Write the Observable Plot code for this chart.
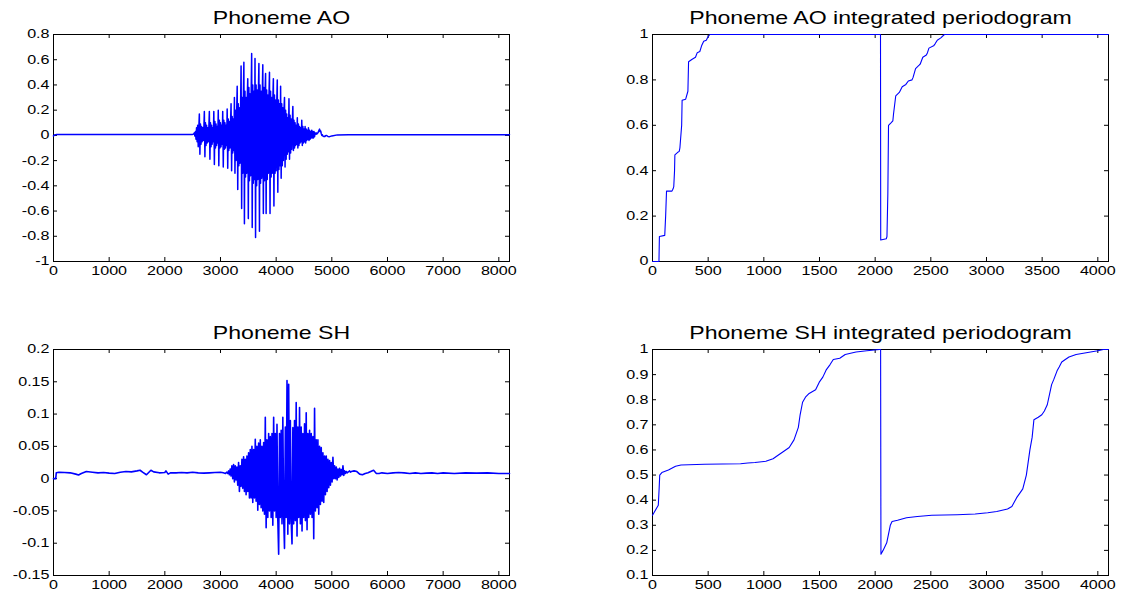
<!DOCTYPE html>
<html><head><meta charset="utf-8">
<script src="https://cdn.jsdelivr.net/npm/d3@7"></script>
<script src="https://cdn.jsdelivr.net/npm/@observablehq/plot@0.6"></script>
<style>
body{margin:0;background:#fff}
#page{position:relative;width:1124px;height:595px;overflow:hidden;background:#fff}
#page svg{position:absolute;overflow:visible}
</style></head>
<body><div id="page"></div>
<script>
// ---------- Data ----------
// Phoneme AO waveform: baseline before burst [sample, value]
const aoLead = [[0,-0.004],[20,0.004],[60,0.007],[150,0.008],[400,0.007],[800,0.008],[1200,0.008],[1600,0.007],[2000,0.008],[2300,0.008],[2490,0.008]];
// burst, one value every 10 samples from sample 2500
const aoBurstStart = 2500, aoBurstStep = 10;
const aoBurst = [
 0.008,0.009,0.012,0.02,-0.005,0.03,-0.03,0.06,-0.05,0.08,-0.09,0.05,
 0.17,-0.15,0.09,-0.07,0.07,-0.05,0.06,-0.04,0.04,
 0.19,-0.17,0.1,-0.08,0.08,-0.06,0.06,-0.05,0.05,
 0.19,-0.19,0.1,-0.09,0.08,-0.07,0.06,-0.05,
 0.19,-0.23,0.11,-0.1,0.09,-0.08,0.07,-0.06,
 0.2,-0.24,0.12,-0.1,0.1,-0.09,0.08,-0.07,
 0.19,-0.25,0.12,-0.11,0.1,-0.1,0.08,-0.08,
 0.21,-0.26,0.13,-0.12,0.11,-0.1,0.09,
 0.25,-0.28,0.15,-0.14,0.13,-0.12,
 0.3,-0.3,0.2,-0.2,0.17,
 0.39,-0.43,0.25,-0.24,0.22,-0.22,0.2,
 0.55,-0.58,0.3,-0.3,0.28,
 0.58,-0.7,0.35,-0.33,0.3,-0.3,0.28,
 0.45,-0.66,0.38,-0.36,0.33,-0.32,0.3,
 0.65,-0.73,0.4,-0.38,0.35,-0.35,
 0.61,-0.81,0.4,-0.4,0.36,-0.35,0.33,
 0.57,-0.76,0.4,-0.38,0.35,-0.34,0.3,
 0.56,-0.62,0.38,-0.36,0.33,
 0.49,-0.62,0.36,-0.35,0.32,-0.3,0.3,
 0.5,-0.62,0.35,-0.33,0.3,-0.3,0.28,
 0.45,-0.56,0.32,-0.3,0.28,-0.28,0.25,
 0.44,-0.45,0.28,-0.27,0.25,-0.24,
 0.39,-0.34,0.25,-0.24,0.22,-0.2,0.2,
 0.3,-0.25,0.2,-0.19,0.17,-0.15,0.14,-0.13,
 0.29,-0.19,0.16,-0.14,0.13,-0.11,0.1,
 0.23,-0.12,0.12,-0.1,0.1,-0.08,0.08,-0.07,
 0.14,-0.1,0.09,-0.08,0.07,-0.06,0.06,-0.05,
 0.12,-0.08,0.07,-0.06,0.05,-0.05,
 0.07,-0.06,0.05,-0.04,0.04,-0.03,
 0.06,-0.04,0.04,-0.03,0.03,-0.02,
 0.04,-0.02,0.03,-0.02,0.03,-0.01,
 0.02,0.01,0.02,0.01,0.015,0.02,0.03,0.04,0.05,0.03,0.035,0.015,0.0,0.005,-0.005,-0.008,-0.01,-0.006,-0.008,-0.002
];
const aoTail = [[4900,0.0],[4930,-0.008],[4960,-0.01],[5000,-0.004],[5100,0.004],[5300,0.005],[5600,0.006],[6000,0.006],[6500,0.006],[7000,0.005],[7500,0.006],[8000,0.006],[8192,0.005]];

// Phoneme SH waveform
const shLead = [[0,0],[40,0],[50,0.009],[100,0.01],[200,0.0095],[300,0.009],[400,0.007],[450,0.0057],[500,0.008],[590,0.011],[700,0.01],[800,0.009],[900,0.0095],[1000,0.0085],[1100,0.008],[1200,0.01],[1300,0.011],[1400,0.0105],[1500,0.012],[1555,0.013],[1600,0.01],[1670,0.006],[1750,0.013],[1800,0.0105],[1900,0.009],[2000,0.0095],[2020,0.012],[2060,0.007],[2100,0.009],[2200,0.009],[2300,0.0095],[2400,0.009],[2500,0.01],[2600,0.009],[2700,0.0085],[2800,0.009],[2900,0.0095],[3000,0.01],[3050,0.009],[3090,0.008]];
// burst, one value every 15 samples from sample 3100
const shBurstStart = 3100, shBurstStep = 15;
const shBurst = [
 0.009,0.01,0.008,0.012,0.006,0.015,0.004,0.02,0.0,0.022,
 -0.005,0.02,-0.002,0.018,-0.01,0.025,-0.02,0.02,-0.012,0.03,
 -0.015,0.034,-0.02,0.03,-0.025,0.035,-0.02,0.04,-0.03,0.045,
 -0.03,0.05,-0.037,0.045,-0.03,0.061,-0.035,0.05,-0.049,0.055,
 -0.04,0.06,-0.045,0.05,-0.05,0.056,-0.055,0.095,-0.076,0.06,
 -0.06,0.07,-0.05,0.065,-0.06,0.07,-0.072,0.095,-0.05,0.07,
 -0.06,0.084,-0.065,-0.117,0.07,-0.06,0.075,-0.07,0.095,-0.06,
 -0.108,0.08,-0.06,0.152,-0.086,0.146,-0.07,0.09,-0.065,-0.101,
 0.079,-0.07,0.09,-0.065,0.118,-0.089,0.08,-0.06,0.11,-0.07,
 0.08,-0.081,0.07,-0.06,0.085,-0.065,0.102,-0.079,0.07,-0.06,
 0.075,-0.055,0.07,-0.06,0.065,-0.093,0.109,-0.05,0.06,-0.045,
 0.06,-0.055,0.05,-0.04,0.048,-0.035,0.04,-0.037,0.035,-0.025,
 0.035,-0.02,0.03,-0.014,0.028,-0.01,0.025,-0.005,0.033,0.0,
 0.02,0.0,0.018,-0.002,0.015,0.002,0.016,0.004,0.014,0.006,
 0.02,0.005,0.012,0.008,0.011,0.009,0.01,0.011,0.012,0.01
];
const shTail = [[5350,0.011],[5400,0.012],[5450,0.011],[5500,0.007],[5550,0.006],[5600,0.008],[5650,0.009],[5700,0.011],[5750,0.013],[5800,0.008],[5850,0.008],[5900,0.009],[6000,0.008],[6100,0.009],[6200,0.0095],[6300,0.009],[6400,0.008],[6500,0.009],[6600,0.008],[6700,0.0085],[6800,0.009],[6900,0.008],[7000,0.009],[7200,0.008],[7400,0.009],[7600,0.0085],[7800,0.009],[8000,0.008],[8192,0.008]];

// Integrated periodograms [frequency index, value]
const aoPgram = [[0,0],[58,0],[62,0.11],[110,0.115],[118,0.2],[126,0.31],[175,0.31],[185,0.32],[191,0.33],[198,0.4],[201,0.47],[224,0.48],[240,0.485],[246,0.5],[262,0.6],[266,0.71],[298,0.715],[318,0.75],[324,0.88],[353,0.89],[386,0.9],[402,0.92],[425,0.925],[441,0.95],[460,0.97],[483,0.975],[499,0.99],[515,1],[2048,1],[2050,0.095],[2100,0.1],[2106,0.11],[2114,0.3],[2120,0.6],[2140,0.61],[2159,0.62],[2165,0.65],[2185,0.73],[2217,0.745],[2243,0.77],[2276,0.78],[2298,0.795],[2331,0.8],[2340,0.81],[2363,0.85],[2395,0.865],[2405,0.87],[2428,0.9],[2460,0.91],[2470,0.92],[2483,0.94],[2525,0.95],[2540,0.96],[2558,0.975],[2590,0.985],[2622,1],[4096,1]];
const shPgram = [[0,0.34],[52,0.38],[60,0.45],[65,0.5],[84,0.51],[143,0.52],[207,0.535],[256,0.54],[467,0.543],[791,0.545],[856,0.548],[920,0.55],[1018,0.555],[1083,0.565],[1131,0.58],[1180,0.595],[1228,0.61],[1271,0.64],[1310,0.69],[1326,0.74],[1348,0.79],[1374,0.81],[1407,0.825],[1465,0.84],[1498,0.87],[1530,0.89],[1562,0.92],[1595,0.94],[1624,0.96],[1682,0.965],[1731,0.98],[1828,0.99],[1925,0.995],[2039,1],[2049,1],[2052,0.185],[2071,0.2],[2104,0.23],[2136,0.3],[2152,0.315],[2201,0.32],[2282,0.33],[2379,0.335],[2509,0.34],[2736,0.342],[2898,0.345],[3011,0.35],[3092,0.355],[3189,0.365],[3228,0.375],[3271,0.41],[3303,0.43],[3326,0.445],[3358,0.5],[3390,0.6],[3410,0.65],[3426,0.72],[3465,0.73],[3497,0.74],[3520,0.755],[3546,0.78],[3585,0.86],[3604,0.88],[3634,0.915],[3653,0.93],[3676,0.95],[3708,0.96],[3741,0.97],[3805,0.98],[3870,0.985],[3935,0.99],[4000,0.995],[4049,1],[4096,1]];

// Titles and ticks
const titles = ["Phoneme AO", "Phoneme AO integrated periodogram", "Phoneme SH", "Phoneme SH integrated periodogram"];
const waveXTicks = [0,1000,2000,3000,4000,5000,6000,7000,8000];
const pgXTicks = [0,500,1000,1500,2000,2500,3000,3500,4000];
const aoYTicks = [-1,-0.8,-0.6,-0.4,-0.2,0,0.2,0.4,0.6,0.8];
const aoPgYTicks = [0,0.2,0.4,0.6,0.8,1];
const shYTicks = [-0.15,-0.1,-0.05,0,0.05,0.1,0.15,0.2];
const shPgYTicks = [0.1,0.2,0.3,0.4,0.5,0.6,0.7,0.8,0.9,1];

// ---------- Build ----------
const pairs = a => a.map(([x,y]) => ({x, y}));
const grid = (start, step, vals) => vals.map((y,i) => ({x: start + i*step, y}));
const aoData = [...pairs(aoLead), ...grid(aoBurstStart, aoBurstStep, aoBurst), ...pairs(aoTail)];
const shData = [...pairs(shLead), ...grid(shBurstStart, shBurstStep, shBurst), ...pairs(shTail)];

const FONT = '"Liberation Sans", Arial, Helvetica, sans-serif';
const TICK = 4;
const STRETCH = 1.32; // the reference text is wider than it is tall

function panel(o) {
  const innerW = o.width - o.ml - o.mr, innerH = o.height - o.mt - o.mb;
  const fmt = d => String(d);
  const svg = Plot.plot({
    width: o.width, height: o.height,
    marginLeft: o.ml, marginRight: o.mr, marginTop: o.mt, marginBottom: o.mb,
    x: {domain: o.xDomain, axis: null, label: null},
    y: {domain: o.yDomain, axis: null, label: null},
    style: {fontFamily: FONT, fontSize: "12px", color: "black", background: "transparent"},
    marks: [
      Plot.frame({stroke: "black", strokeWidth: 1}),
      Plot.ruleX(o.xTicks, {x: d => d, insetTop: innerH - TICK, stroke: "black"}),
      Plot.ruleX(o.xTicks, {x: d => d, insetBottom: innerH - TICK, stroke: "black"}),
      Plot.ruleY(o.yTicks, {y: d => d, insetRight: innerW - TICK, stroke: "black"}),
      Plot.ruleY(o.yTicks, {y: d => d, insetLeft: innerW - TICK, stroke: "black"}),
      Plot.axisX({ticks: o.xTicks, tickSize: 0, tickPadding: 5, tickFormat: fmt, label: null, fontSize: 12.2}),
      Plot.axisY({ticks: o.yTicks, tickSize: 0, tickPadding: 4, tickFormat: fmt, label: null, fontSize: 12.2}),
      Plot.line(o.data, {x: "x", y: "y", stroke: "#0000ff", strokeWidth: o.sw}),
      Plot.text([o.title], {frameAnchor: "top", dy: -16, lineAnchor: "middle", fontSize: 17.5, text: d => d, fill: "black"})
    ]
  });
  svg.querySelectorAll("text").forEach(t => {
    const tr = t.getAttribute("transform");
    if (tr) t.setAttribute("transform", tr + ` scale(${STRETCH},1)`);
  });
  svg.style.left = o.left + "px";
  svg.style.top = o.top + "px";
  document.getElementById("page").appendChild(svg);
}

panel({left: 0, top: 0, width: 562, height: 297, ml: 53, mr: 53, mt: 34, mb: 36,
  xDomain: [0, 8192], yDomain: [-1, 0.8], xTicks: waveXTicks, yTicks: aoYTicks, data: aoData, sw: 1.5, title: titles[0]});
panel({left: 562, top: 0, width: 562, height: 297, ml: 90, mr: 16, mt: 34, mb: 36,
  xDomain: [0, 4096], yDomain: [0, 1], xTicks: pgXTicks, yTicks: aoPgYTicks, data: pairs(aoPgram), sw: 1.1, title: titles[1]});
panel({left: 0, top: 297, width: 562, height: 298, ml: 53, mr: 53, mt: 52, mb: 20,
  xDomain: [0, 8192], yDomain: [-0.15, 0.2], xTicks: waveXTicks, yTicks: shYTicks, data: shData, sw: 1.6, title: titles[2]});
panel({left: 562, top: 297, width: 562, height: 298, ml: 90, mr: 16, mt: 52, mb: 20,
  xDomain: [0, 4096], yDomain: [0.1, 1], xTicks: pgXTicks, yTicks: shPgYTicks, data: pairs(shPgram), sw: 1.1, title: titles[3]});
</script>
</body></html>
